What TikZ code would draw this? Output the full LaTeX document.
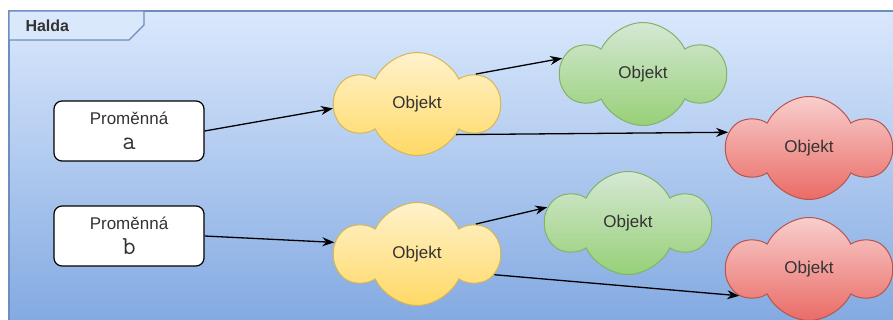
\documentclass[tikz,border=0pt]{standalone}
\usepackage{fontspec}
\setmainfont{Liberation Sans}
\usetikzlibrary{shapes.symbols, arrows.meta, positioning}

\definecolor{frameline}{HTML}{6C8EBF}
\definecolor{frametop}{HTML}{DAE8FC}
\definecolor{framebot}{HTML}{7EA6E0}
\definecolor{yelltop}{HTML}{FFF2CC}
\definecolor{yellbot}{HTML}{FFD966}
\definecolor{yellline}{HTML}{D6B656}
\definecolor{greentop}{HTML}{D5E8D4}
\definecolor{greenbot}{HTML}{97D077}
\definecolor{greenline}{HTML}{82B366}
\definecolor{redtop}{HTML}{F8CECC}
\definecolor{redbot}{HTML}{EA6B66}
\definecolor{redline}{HTML}{B85450}
\definecolor{textgray}{HTML}{333333}

\begin{document}
\begin{tikzpicture}[
      x=1pt, y=-1pt,
      font=\fontsize{17}{20}\selectfont,
      var/.style={
          rectangle,
          draw=black,
          rounded corners=8pt,
          fill=white,
          align=center,
          minimum width=150pt,
          minimum height=60pt,
          inner sep=2pt,
          line width=1.2pt,
          text=textgray
        },
      obj/.style={
          cloud,
          cloud puffs=6,
          cloud puff arc=130,
          cloud ignores aspect,
          minimum width=163pt,
          minimum height=103pt,
          line width=1pt,
          text=textgray,
          draw=#1line,
          top color=#1top,
          bottom color=#1bot
        },
      arrow/.style={
          -{Stealth[length=12pt,width=9pt]},
          line width=1.3pt
        }
    ]

    % Frame
    \useasboundingbox (0,0) rectangle (893,320);
    \draw[frameline, line width=1.2pt, top color=frametop, bottom color=framebot] (9,11) rectangle (905,340);
    \draw[frameline, line width=1.2pt, fill=frametop] (9,11) -- (144,11) -- (144,25) -- (129,40) -- (9,40) -- cycle;
    \node[anchor=west, font=\bfseries\fontsize{16}{19}\selectfont, text=textgray] (halda) at (22,26) {Halda};

    % Nodes
    \node[var] (pa) at (129,131) {Proměnná\\[5pt]{\ttfamily\fontsize{26}{26}\selectfont a}};
    \node[obj=yell] (ya) at (417,104) {Objekt};
    \node[obj=green] (ga) at (643,74) {Objekt};
    \node[obj=red] (ra) at (809,148) {Objekt};
    \node[var] (pb) at (129,236) {Proměnná\\[5pt]{\ttfamily\fontsize{26}{26}\selectfont b}};
    \node[obj=yell] (yb) at (417,254) {Objekt};
    \node[obj=green] (gb) at (628,223) {Objekt};
    \node[obj=red] (rb) at (809,269) {Objekt};

    % Arrows
    \draw[arrow] (pa.east) -- (ya.183);
    \draw[arrow] (ya.27) -- (ga.169);
    \draw[arrow] (ya.322) -- (ra.169);
    \draw[arrow] (pb.east) -- (yb.172);
    \draw[arrow] (yb.27) -- (gb.169);
    \draw[arrow] (yb.345) -- (rb.201);
  \end{tikzpicture}
\end{document}
